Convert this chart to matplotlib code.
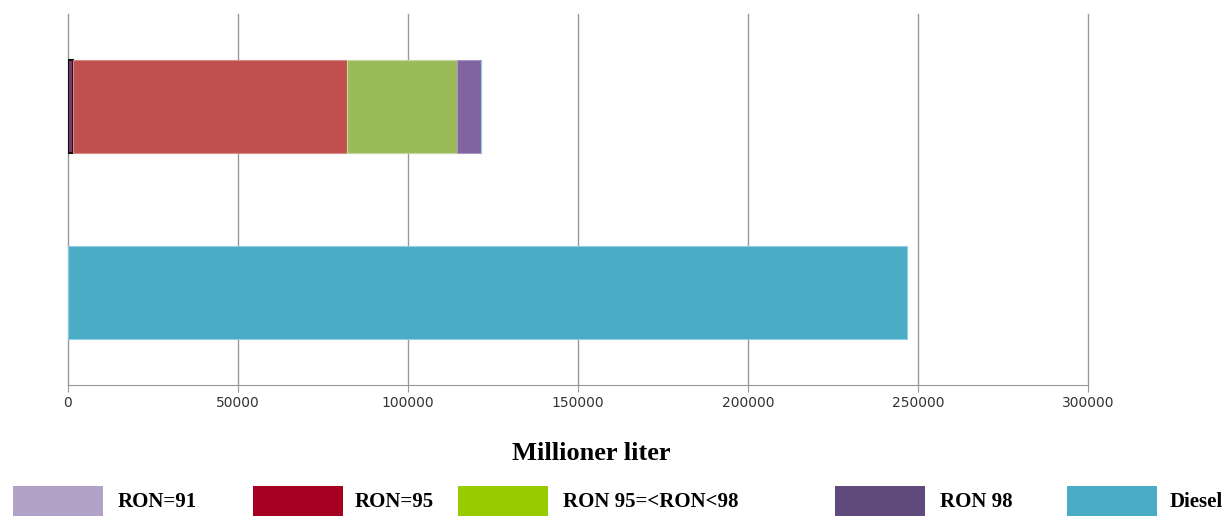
import numpy as np
import matplotlib
matplotlib.use('Agg')
import matplotlib.pyplot as plt
from matplotlib.patches import Rectangle

# data (millioner liter)
categories = ['Diesel', 'Bensin']
series = ['RON=91', 'RON=95', 'RON 95=<RON<98', 'RON 98', 'Diesel']
bensin = [1500, 80500, 32500, 7000, 0]
diesel = [0, 0, 0, 0, 246800]
bar_colors = ['#7a3b6e', '#c0504d', '#9bbb59', '#8064a2', '#4bacc6']
bar_edges = ['#111111', '#d88886', '#c3d79e', '#a996c2', '#8fcfe0']
legend_colors = ['#b3a2c7', '#a50021', '#99cc00', '#604a7b', '#4bacc6']
ticks = [0, 50000, 100000, 150000, 200000, 250000, 300000]

fig = plt.figure(figsize=(12.26, 5.16), dpi=100)
W, H = 1226, 516
ax = fig.add_axes([68 / W, 1 - 385 / H, (1088 - 68) / W, (385 - 14) / H])

values = np.array([diesel, bensin])
left = np.zeros(2)
for i, name in enumerate(series):
    lw = 1.5 if i == 0 else 0.8
    ax.barh([0, 1], values[:, i], left=left, height=0.5, color=bar_colors[i],
            edgecolor=bar_edges[i], linewidth=lw, zorder=3)
    left += values[:, i]

ax.set_xlim(0, 300000)
ax.set_ylim(-0.5, 1.5)
ax.set_yticks([])
ax.set_xticks(ticks)
ax.set_xticklabels([str(t) for t in ticks], fontsize=10, family='DejaVu Sans', color='#333333')
ax.tick_params(axis='x', length=5, color='#999999', pad=3)
ax.grid(axis='x', color='#999999', linewidth=1, zorder=0)
for line in ax.get_xgridlines():
    line.set_clip_on(False)
for s in ['top', 'right', 'left']:
    ax.spines[s].set_visible(False)
ax.spines['bottom'].set_color('#999999')

fig.text(591 / W, 1 - 454 / H, 'Millioner liter', ha='center', va='center',
         family='Liberation Serif', fontweight='bold', fontsize=19)

# legend, laid out like the original
patch_x = [13, 253, 458, 835, 1067]
text_x = [118, 355, 563, 940, 1170]
for i, name in enumerate(series):
    fig.add_artist(Rectangle((patch_x[i] / W, 0), 90 / W, 30 / H, transform=fig.transFigure,
                             facecolor=legend_colors[i], edgecolor='none'))
    fig.text(text_x[i] / W, 1 - 502 / H, name, ha='left', va='center',
             family='Liberation Serif', fontweight='bold', fontsize=15)

fig.savefig('out.png', dpi=100)
